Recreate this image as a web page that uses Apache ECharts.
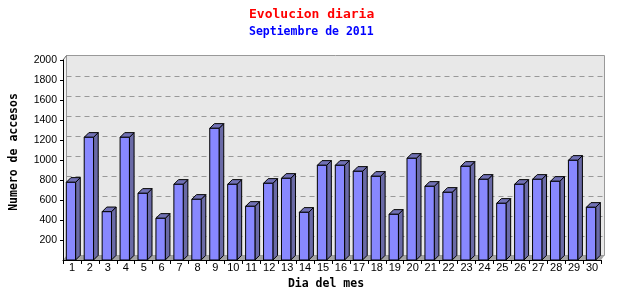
<!DOCTYPE html>
<html>
<head>
<meta charset="utf-8">
<script src="https://cdn.jsdelivr.net/npm/echarts@6/dist/echarts.min.js"></script>
<style>
html,body{margin:0;padding:0;background:#fff;}
#chart{width:640px;height:300px;}
</style>
</head>
<body>
<div id="chart"></div>
<script>
// ---- data ----
const days = ['1','2','3','4','5','6','7','8','9','10','11','12','13','14','15','16','17','18','19','20','21','22','23','24','25','26','27','28','29','30'];
const accesos = [777,1227,483,1227,667,417,757,607,1317,757,537,767,817,477,947,947,887,837,457,1017,737,677,937,807,567,757,807,787,997,527];
const yTicks = [0,200,400,600,800,1000,1200,1400,1600,1800,2000];
const titleText = 'Evolucion diaria';
const subtitleText = 'Septiembre de 2011';
const xName = 'Dia del mes';
const yName = 'Numero de accesos';

const yMax = yTicks[yTicks.length - 1];
const yStep = yTicks[1] - yTicks[0];

const chart = echarts.init(document.getElementById('chart'), null, {renderer: 'canvas'});

const WALL_DX = 3.5, WALL_DY = 4.5;

function renderWall(params, api) {
  const bw = api.size([1, 0])[0];
  const l = api.coord([0, 0])[0] - bw / 2;
  const r = api.coord([days.length - 1, 0])[0] + bw / 2;
  const b = api.coord([0, 0])[1];
  const t = api.coord([0, yMax])[1];
  const children = [];
  children.push({type: 'polygon', shape: {points: [[l, b], [l, t], [l + WALL_DX, t - WALL_DY], [l + WALL_DX, b - WALL_DY]]},
    style: {fill: '#f2f2f2', stroke: null}});
  children.push({type: 'rect', shape: {x: l + WALL_DX, y: t - WALL_DY, width: r - l, height: b - t},
    style: {fill: '#e8e8e8', stroke: '#999999', lineWidth: 1}});
  children.push({type: 'polygon', shape: {points: [[l, b], [r, b], [r + WALL_DX, b - WALL_DY], [l + WALL_DX, b - WALL_DY]]},
    style: {fill: '#a4a4a4', stroke: null}});
  yTicks.forEach(function (v) {
    if (v === 0 || v === yMax) return;
    const y = api.coord([0, v])[1] - WALL_DY;
    children.push({type: 'line', shape: {x1: l + WALL_DX, y1: Math.round(y) + 0.5, x2: r + WALL_DX, y2: Math.round(y) + 0.5},
      style: {stroke: '#999999', lineWidth: 1, lineDash: [5, 4]}});
  });
  children.push({type: 'line', shape: {x1: l, y1: t, x2: l + WALL_DX, y2: t - WALL_DY}, style: {stroke: '#666', lineWidth: 1}});
  return {type: 'group', children: children};
}

function renderBar(params, api) {
  const idx = api.value(0);
  const top = api.coord([idx, api.value(1)]);
  const base = api.coord([idx, 0]);
  const bw = api.size([1, 0])[0];
  const w = bw * 0.52;
  const d = bw * 0.26;
  const x0 = top[0] - bw * 0.317;
  const yt = top[1], yb = base[1];
  return {
    type: 'group',
    children: [
      {type: 'polygon', shape: {points: [[x0 + w, yt], [x0 + w + d, yt - d], [x0 + w + d, yb - d], [x0 + w, yb]]},
        style: {fill: '#6a6aa6', stroke: '#000', lineWidth: 1}},
      {type: 'polygon', shape: {points: [[x0, yt], [x0 + d, yt - d], [x0 + w + d, yt - d], [x0 + w, yt]]},
        style: {fill: '#7070b4', stroke: '#000', lineWidth: 1}},
      {type: 'rect', shape: {x: x0, y: yt, width: w, height: yb - yt},
        style: {fill: '#8888ff', stroke: '#000', lineWidth: 1}}
    ]
  };
}

const option = {
  backgroundColor: '#ffffff',
  animation: false,
  title: [
    {text: titleText, left: 249, top: 8, padding: 0,
      textStyle: {fontFamily: 'DejaVu Sans Mono', fontWeight: 'bold', fontSize: 13, color: '#ff0000'}},
    {text: subtitleText, left: 249, top: 26, padding: 0,
      textStyle: {fontFamily: 'DejaVu Sans Mono', fontWeight: 'bold', fontSize: 11.5, color: '#0000ff'}}
  ],
  grid: {left: 61, right: 39, top: 60, bottom: 40, containLabel: false},
  xAxis: {
    type: 'category',
    data: days,
    boundaryGap: true,
    name: xName,
    nameLocation: 'middle',
    nameGap: 13,
    nameTextStyle: {fontFamily: 'DejaVu Sans Mono', fontWeight: 'bold', fontSize: 11.5, color: '#000', padding: [0, 12, 0, 0]},
    axisLine: {show: true, lineStyle: {color: '#000', width: 1}},
    axisTick: {show: true, length: 4, lineStyle: {color: '#000'}},
    axisLabel: {interval: 0, margin: 2, fontFamily: 'Liberation Sans', fontSize: 11, color: '#000'},
    splitLine: {show: false}
  },
  yAxis: {
    type: 'value',
    min: 0,
    max: yMax,
    interval: yStep,
    name: yName,
    nameLocation: 'middle',
    nameGap: 43,
    nameRotate: 90,
    nameTextStyle: {fontFamily: 'DejaVu Sans Mono', fontWeight: 'bold', fontSize: 11.5, color: '#000', padding: [0, 0, 0, 16]},
    axisLine: {show: true, lineStyle: {color: '#000', width: 1}},
    axisTick: {show: true, length: 3, lineStyle: {color: '#000'}},
    axisLabel: {showMinLabel: false, margin: 6, fontFamily: 'Liberation Sans', fontSize: 10.5, color: '#000',
      formatter: function (v) { return String(v); }},
    splitLine: {show: false}
  },
  series: [
    {type: 'custom', name: 'wall', data: [[0, 0]], renderItem: renderWall, clip: false, silent: true, z: 0,
      encode: {x: 0, y: 1}},
    {type: 'custom', name: 'accesos', data: accesos.map(function (v, i) { return [i, v]; }),
      renderItem: renderBar, clip: false, z: 2, encode: {x: 0, y: 1}}
  ]
};
chart.setOption(option);
</script>
</body>
</html>
